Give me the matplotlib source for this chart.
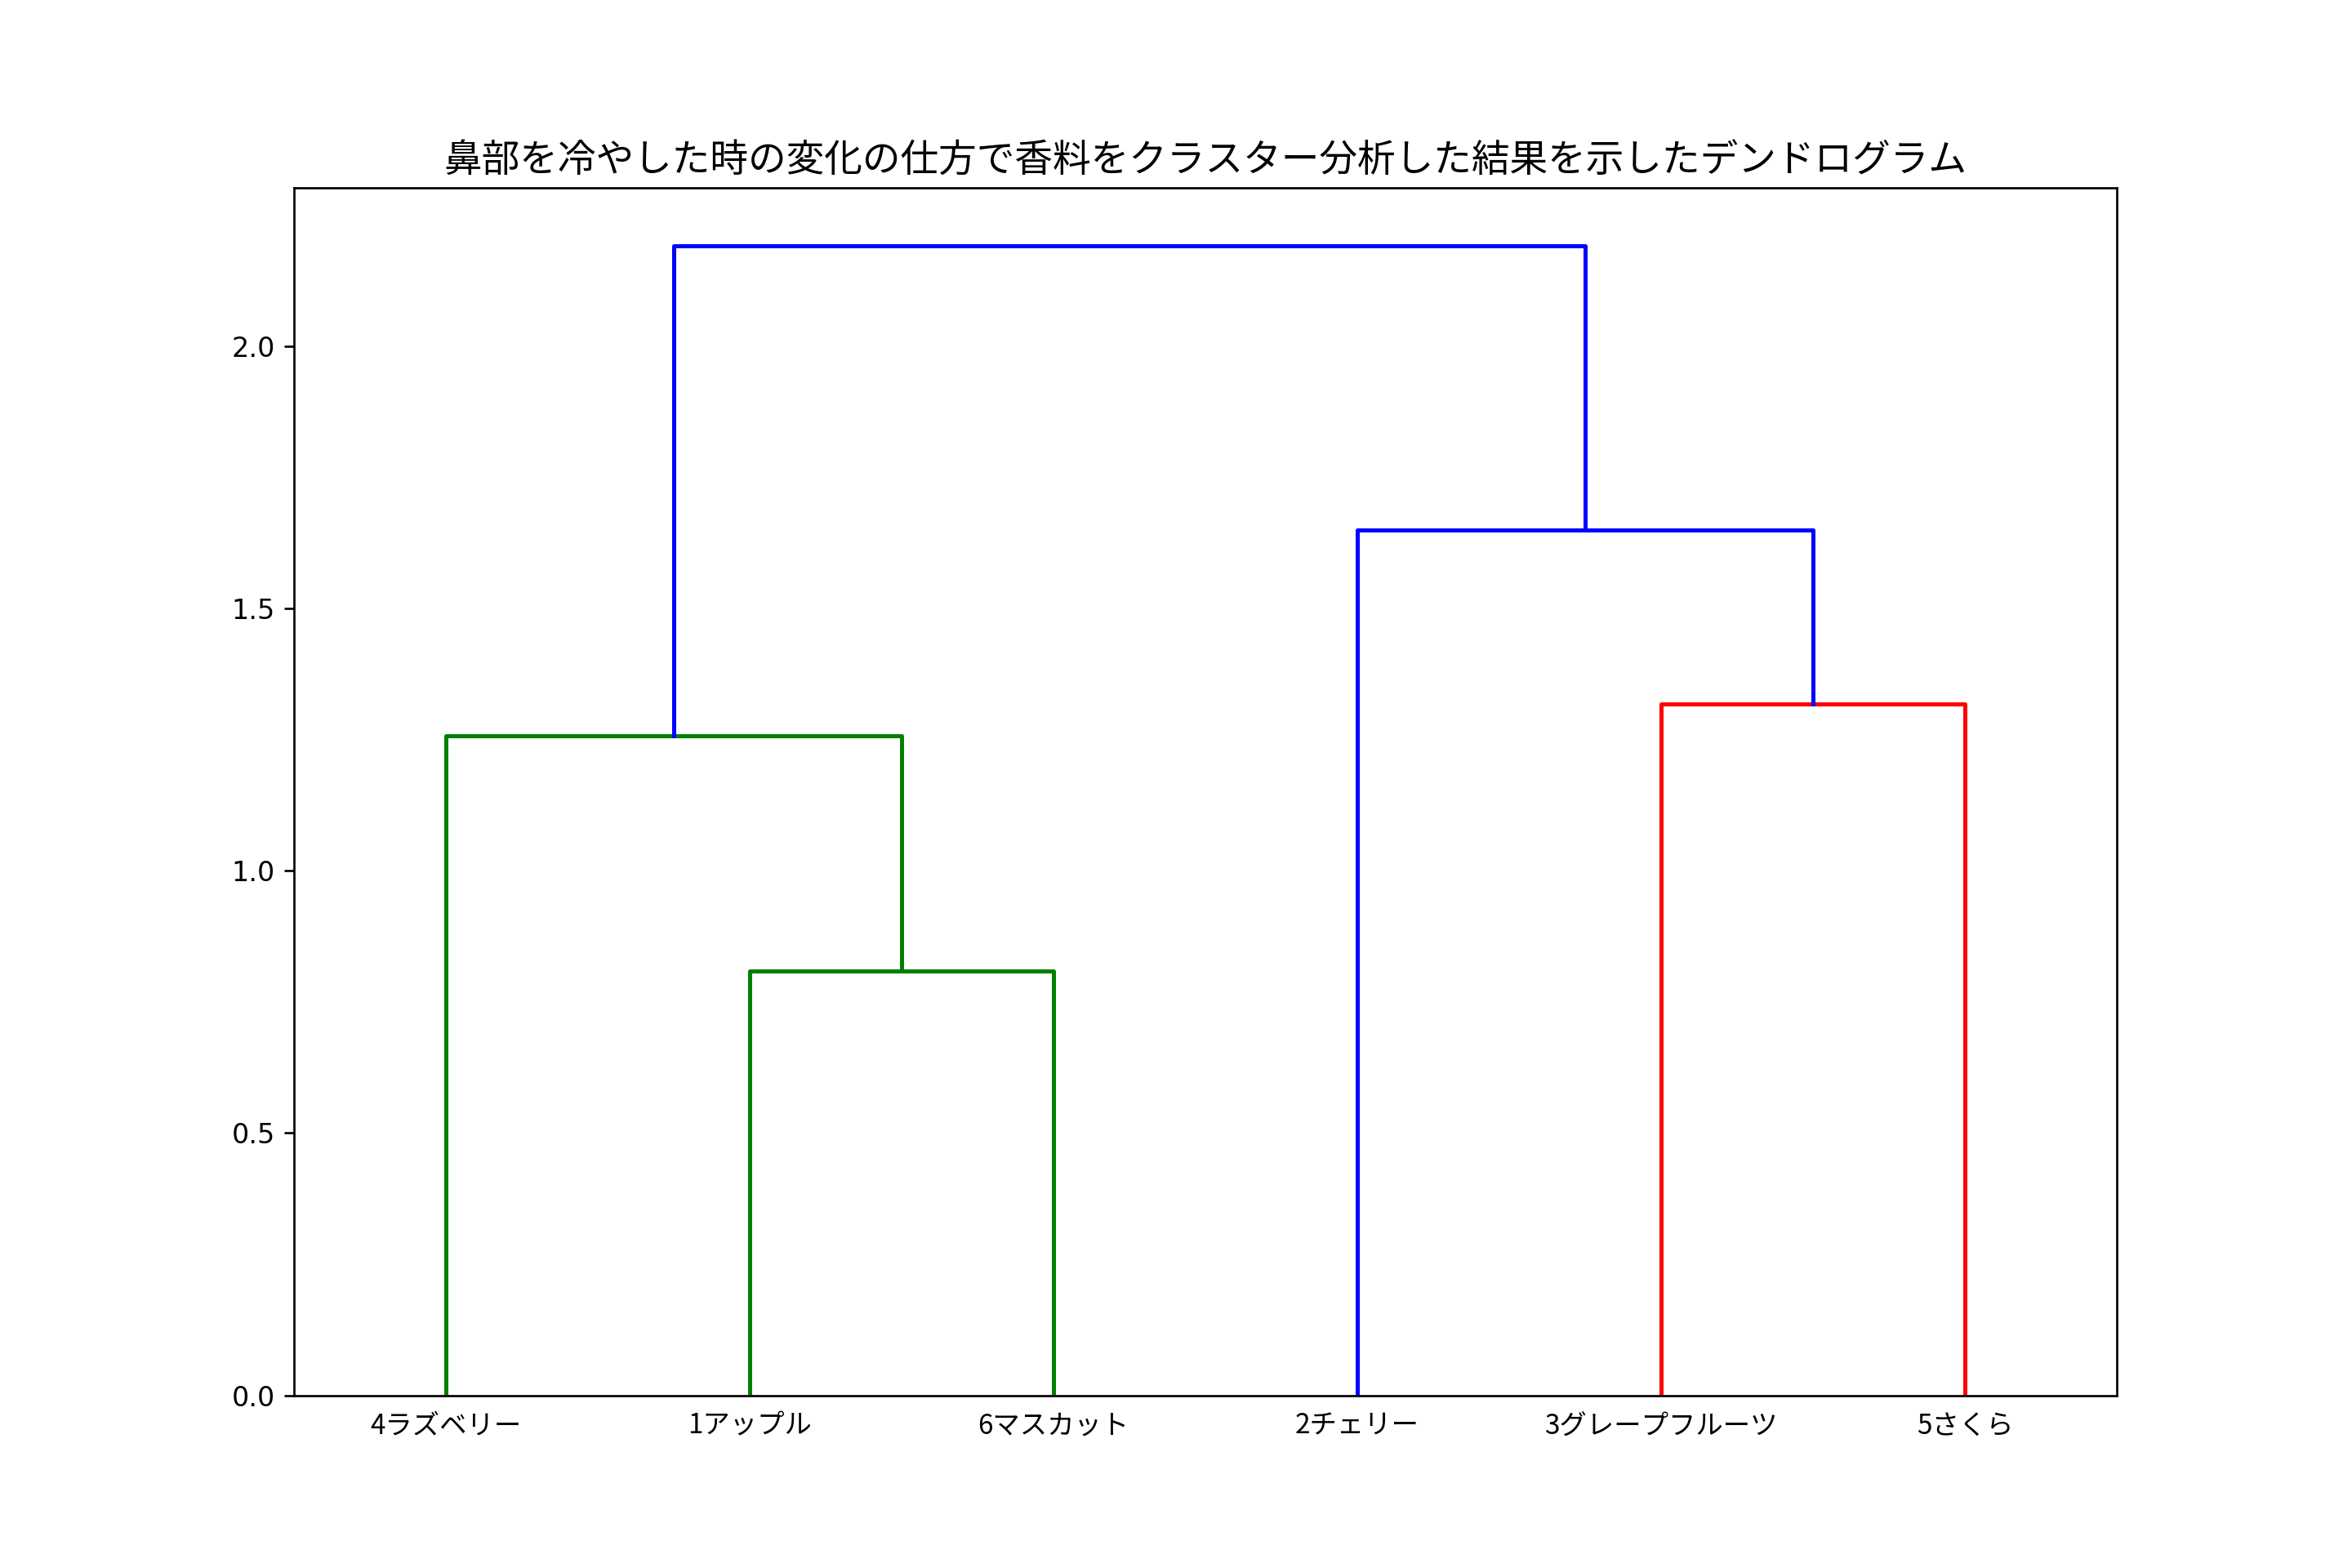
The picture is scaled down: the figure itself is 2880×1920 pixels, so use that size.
import matplotlib.pyplot as plt

plt.rcParams['font.family'] = ['DejaVu Sans', 'Noto Sans CJK JP']

# Leaves in dendrogram order
leaf_labels = ["4ラズベリー", "1アップル", "6マスカット", "2チェリー", "3グレープフルーツ", "5さくら"]

# Merges: (left node, right node, height); new nodes are numbered after the leaves
merge_left = [1, 0, 4, 3, 7]
merge_right = [2, 6, 5, 8, 9]
merge_height = [0.809, 1.257, 1.317, 1.649, 2.191]
merge_color = ["g", "g", "r", "b", "b"]

fig, ax = plt.subplots(figsize=(12, 8), dpi=240)

# leaf positions like scipy: 5, 15, 25, ...
node_x = [10 * i + 5 for i in range(len(leaf_labels))]
node_y = [0.0] * len(leaf_labels)

for a, b, h, c in zip(merge_left, merge_right, merge_height, merge_color):
    xa, xb = node_x[a], node_x[b]
    ya, yb = node_y[a], node_y[b]
    ax.plot([xa, xa, xb, xb], [ya, h, h, yb], color=c, linewidth=1.5)
    node_x.append((xa + xb) / 2)
    node_y.append(h)

ax.set_xlim(0, 10 * len(leaf_labels))
ax.set_ylim(0, max(merge_height) * 1.05)
ax.set_xticks([10 * i + 5 for i in range(len(leaf_labels))])
ax.set_xticklabels(leaf_labels, family=['Noto Sans CJK JP', 'DejaVu Sans'])
ax.tick_params(axis='x', length=0, pad=6)
ax.set_title("鼻部を冷やした時の変化の仕方で香料をクラスター分析した結果を示したデンドログラム",
             family=['Noto Sans CJK JP', 'DejaVu Sans'], fontsize=14)

plt.savefig("out.png")
